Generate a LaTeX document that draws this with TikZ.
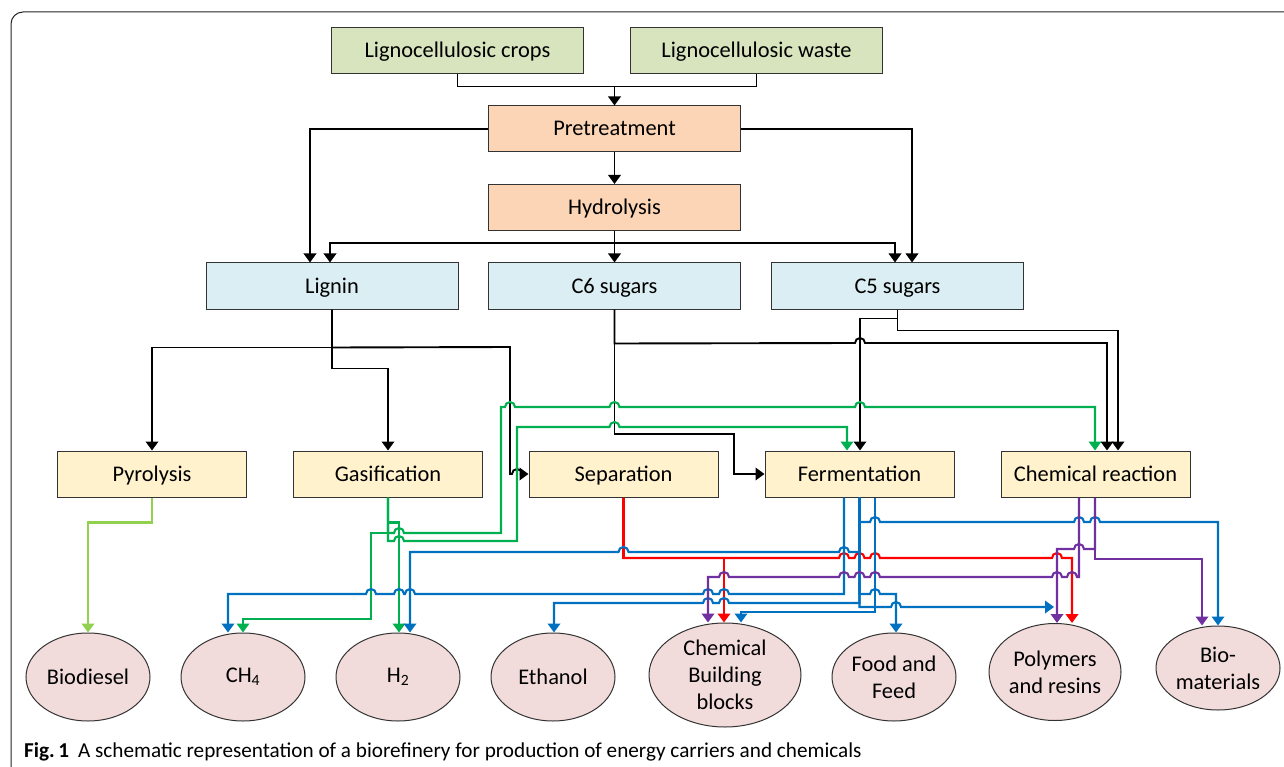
\documentclass[tikz,border=0pt]{standalone}
\usepackage{fontspec}
\setmainfont{Carlito}
\usetikzlibrary{arrows.meta,shapes.geometric}
\definecolor{cgreen}{HTML}{D7E4BD}
\definecolor{corange}{HTML}{FBD5B5}
\definecolor{cblue}{HTML}{DBEEF4}
\definecolor{cyellow}{HTML}{FFF2CC}
\definecolor{cpink}{HTML}{F2DCDB}
\definecolor{lgreen}{HTML}{92D050}
\definecolor{lgr}{HTML}{00B050}
\definecolor{lblue}{HTML}{0070C0}
\definecolor{lred}{HTML}{FF0000}
\definecolor{lpurple}{HTML}{7030A0}
\tikzset{
  box/.style={draw=black!80, line width=1pt, minimum height=46pt, inner sep=0pt, text height=18pt, text depth=4pt, font=\fontsize{22.4}{26}\selectfont},
  wbox/.style={box, minimum width=252pt},
  sbox/.style={box, minimum width=189pt, fill=cyellow},
  prod/.style={ellipse, draw=black!80, line width=1pt, fill=cpink, inner sep=0pt, align=center, font=\fontsize{22.4}{27}\selectfont},
  ln/.style={line width=1.9pt},
  con/.style={ln, -{Triangle[length=9pt,width=12.5pt]}},
  bk/.style={draw=black},
  gr/.style={draw=lgr, line width=2.1pt},
  lg/.style={draw=lgreen, line width=2.1pt},
  bu/.style={draw=lblue, line width=2.1pt},
  rd/.style={draw=lred, line width=2.1pt},
  pu/.style={draw=lpurple, line width=2.1pt},
  jr/.style 2 args={insert path={-- (#1-5,#2) arc[start angle=180,end angle=0,radius=5pt]}},
  jl/.style 2 args={insert path={-- (#1+5,#2) arc[start angle=0,end angle=180,radius=5pt]}},
}
\begin{document}
\begin{tikzpicture}[x=1pt,y=-1pt]
\useasboundingbox (0,0) rectangle (1284,767);
\fill[white] (0,0) rectangle (1284,767);
\draw[line width=1pt, draw=black!85, rounded corners=12pt] (11,780) -- (11,12) -- (1300,12);

% boxes
\node[wbox,fill=cgreen] (crops) at (457.5,51) {Lignocellulosic crops};
\node[wbox,fill=cgreen] (waste) at (756.5,51) {Lignocellulosic waste};
\node[wbox,fill=corange] (pre) at (614.5,129) {Pretreatment};
\node[wbox,fill=corange] (hyd) at (614.5,207.5) {Hydrolysis};
\node[wbox,fill=cblue] (lig) at (332,286) {Lignin};
\node[wbox,fill=cblue] (c6) at (614.5,286) {C6 sugars};
\node[wbox,fill=cblue] (c5) at (897.5,286) {C5 sugars};
\node[sbox] (pyr) at (152,474) {Pyrolysis};
\node[sbox] (gas) at (388,474) {Gasification};
\node[sbox] (sep) at (623.5,474) {Separation};
\node[sbox] (fer) at (859.5,474) {Fermentation};
\node[sbox] (chr) at (1095.5,474) {Chemical reaction};

% products
\node[prod, minimum width=124pt, minimum height=88pt] (bio) at (88,677) {Biodiesel};
\node[prod, minimum width=124pt, minimum height=88pt] (ch4) at (243,677) {CH\textsubscript{4}};
\node[prod, minimum width=124pt, minimum height=88pt] (h2) at (398,677) {H\textsubscript{2}};
\node[prod, minimum width=124pt, minimum height=88pt] (eth) at (553,677) {Ethanol};
\node[prod, minimum width=152pt, minimum height=104pt] (cbb) at (725,675) {Chemical\\Building\\blocks};
\node[prod, minimum width=124pt, minimum height=88pt] (ff) at (894,677) {Food and\\Feed};
\node[prod, minimum width=132pt, minimum height=97pt] (pr) at (1055,672) {Polymers\\and resins};
\node[prod, minimum width=124pt, minimum height=84pt] (bm) at (1218,668) {Bio-\\materials};

\node[anchor=base west, inner sep=0pt, font=\fontsize{21.2}{24}\selectfont] (cap) at (24,757) {\textbf{Fig.\,1}\hspace{9pt}A schematic representation of a biorefinery for production of energy carriers and chemicals};

% top part
\draw[ln,bk] (crops.south) -- ++(0,12) -| (waste.south);
\draw[con,bk] (pre.north |- 0,86) -- (pre.north);
\draw[con,bk] (pre.south) -- (hyd.north);
\draw[con,bk] (pre.west) -| (310,0 |- lig.north);
\draw[con,bk] (pre.east) -| (912,0 |- c5.north);
\draw[con,bk] (hyd.south) -- ++(0,12) -| (330,0 |- lig.north);
\draw[con,bk] (hyd.south) -- ++(0,12) -| (895,0 |- c5.north);
\draw[con,bk] (hyd.south) -- (c6.north);

% lignin
\draw[con,bk] (lig.south) -- ++(0,38) -| (pyr.north);
\draw[con,bk] (lig.south) -- ++(0,59) -| (gas.north);
\draw[con,bk] (lig.south) -- ++(0,38) -- (510,347) -- (510,474) [jr={517}{474}] -- (sep.west);

% C6
\draw[con,bk] (c6.south) |- (734,434) |- (fer.west);
\draw[con,bk] (c6.south) -- ++(0,34) [jr={860}{343}] -| (1107,0 |- chr.north);

% C5
\draw[con,bk] (c5.south) -- ++(0,9) -| (860,0 |- fer.north);
\draw[con,bk] (c5.south) -- ++(0,21) -| (1118,0 |- chr.north);

% pyrolysis
\draw[con,lg] (pyr.south) -- ++(0,25) -| (88,0 |- bio.north);

% gasification (green)
\draw[con,gr] (gas.south) -- ++(0,25) -| (399,0 |- h2.north);
\draw[con,gr] (gas.south) -- (388,541) [jr={399}{541}] -- (517,541) -- (517,427) [jr={614.5}{427}] -| (847,0 |- fer.north);
\draw[con,gr] (gas.south) -- (388,533) [jr={399}{533}] -- (501,533) -- (501,407) [jr={510}{407}] [jr={614.5}{407}] [jr={860}{407}] -| (1095,0 |- chr.north);
\draw[con,gr] (gas.south) -- (388,533) -- (371,533) -- (371,619) -| (243,0 |- ch4.north);

% separation (red)
\draw[con,rd] (sep.south) |- (724,558) -- (724,0 |- cbb.north);
\draw[con,rd] (sep.south) -- (623.5,558) [jr={844}{558}] [jr={859.5}{558}] [jr={875}{558}] [jr={1057}{558}] -- (1072,558) -- (1072,0 |- pr.north);

% fermentation (blue)
\draw[con,bu] (fer.south) -- (859.5,552) [jl={844}{552}] [jl={623.5}{552}] -| (410,0 |- h2.north);
\draw[con,bu] (844,0 |- fer.south) -- (844,594) [jl={724}{594}] [jl={708}{594}] [jl={410}{594}] [jl={399}{594}] [jl={371}{594}] -| (228,0 |- ch4.north);
\draw[con,bu] (fer.south) -- (859.5,603) [jl={724}{603}] [jl={708}{603}] -| (554,0 |- eth.north);
\draw[con,bu] (875,0 |- fer.south) -- (875,612) -| (741,0 |- cbb.north);
\draw[con,bu] (fer.south) -- (859.5,522) [jr={875}{522}] [jr={1079}{522}] [jr={1095}{522}] -| (1218,0 |- bm.north);
\draw[con,bu] (fer.south) -- (859.5,594) [jr={875}{594}] -| (896,0 |- ff.north);
\coordinate (prin) at (1054,607);
\draw[con,bu] (fer.south) -- (859.5,607) [jr={896}{607}] -- (prin);

% chemical reaction (purple)
\draw[con,pu] (1095,0 |- chr.south) -- (1095,559) -| (1202,0 |- bm.north);
\draw[con,pu] (1095,0 |- chr.south) -- (1095,549) [jl={1079}{549}] -| (1057,0 |- pr.north);
\draw[con,pu] (1079,0 |- chr.south) -- (1079,577) [jl={1072}{577}] [jl={1057}{577}] [jl={875}{577}] [jl={859.5}{577}] [jl={844}{577}] [jl={724}{577}] -| (708,0 |- cbb.north);
\end{tikzpicture}
\end{document}
